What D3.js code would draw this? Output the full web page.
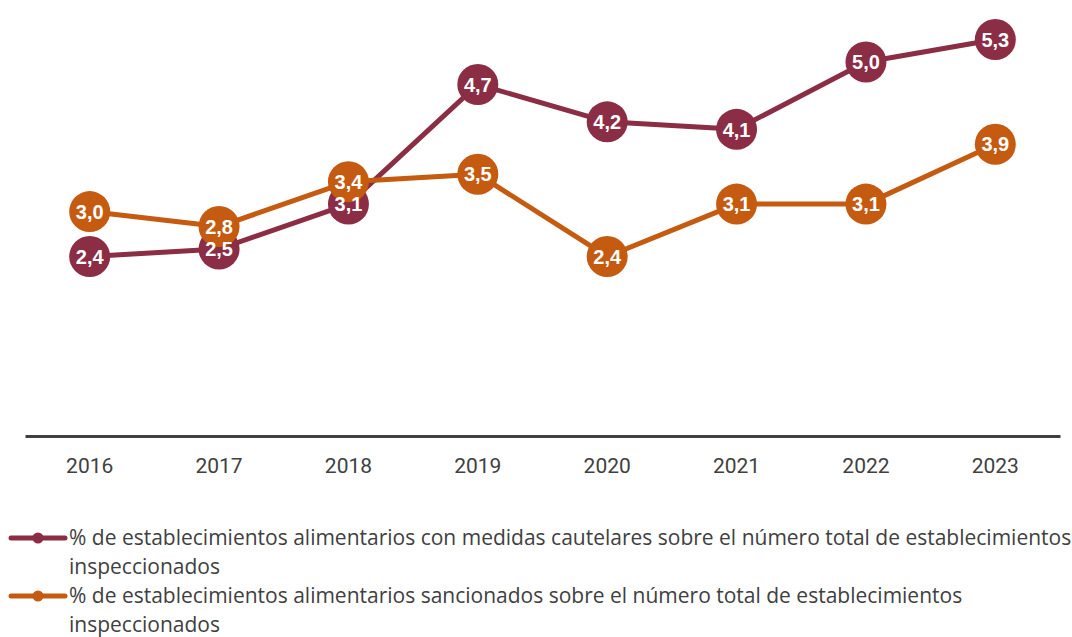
<!DOCTYPE html>
<html>
<head>
<meta charset="utf-8">
<script src="https://cdn.jsdelivr.net/npm/d3@7"></script>
<style>
  body { margin: 0; background: #fff; }
  svg { display: block; }
</style>
</head>
<body>
<div id="chart-container" style="width:1072px;height:637px"></div>
<script>
// data
var years = ["2016", "2017", "2018", "2019", "2020", "2021", "2022", "2023"];
var cautelares = [2.4, 2.5, 3.1, 4.7, 4.2, 4.1, 5.0, 5.3];
var sancionados = [3.0, 2.8, 3.4, 3.5, 2.4, 3.1, 3.1, 3.9];
var seriesNames = [
    ["% de establecimientos alimentarios con medidas cautelares sobre el número total de establecimientos", "inspeccionados"],
    ["% de establecimientos alimentarios sancionados sobre el número total de establecimientos", "inspeccionados"]
];
var seriesColors = ["#8a2d45", "#c55a11"];

var width = 1072,
    height = 637,
    baseline = 436;

var svg = d3.select("#chart-container").append("svg")
    .attr("width", width)
    .attr("height", height);

var xScale = d3.scaleBand()
    .domain(years)
    .range([25, 1060]);

var yScale = d3.scaleLinear()
    .domain([0, 6])
    .range([baseline, baseline - 6 * 74.8]);

var xPos = d => xScale(d) + xScale.bandwidth() / 2;

// axis
var xAxis = d3.axisBottom(xScale).tickSize(0).tickPadding(22);
var gX = svg.append("g")
    .attr("transform", "translate(0," + baseline + ")")
    .call(xAxis);
gX.select(".domain").attr("stroke", "#404040").attr("stroke-width", 3);
gX.selectAll("text")
    .attr("fill", "#404040")
    .style("font-family", "Roboto, 'Liberation Sans', Arial, sans-serif")
    .style("font-size", "21px");

var line = d3.line()
    .x((d, i) => xPos(years[i]))
    .y(d => yScale(d));

var all = [cautelares, sancionados];

// lines + markers, series by series
all.forEach(function (vals, s) {
    svg.append("path")
        .datum(vals)
        .attr("d", line)
        .attr("fill", "none")
        .attr("stroke", seriesColors[s])
        .attr("stroke-width", 5)
        .attr("stroke-linejoin", "round");
    svg.append("g").selectAll("circle")
        .data(vals).enter().append("circle")
        .attr("cx", (d, i) => xPos(years[i]))
        .attr("cy", d => yScale(d))
        .attr("r", 20.5)
        .attr("fill", seriesColors[s]);
});

// labels on top
all.forEach(function (vals, s) {
    svg.append("g").selectAll("text")
        .data(vals).enter().append("text")
        .attr("x", (d, i) => xPos(years[i]))
        .attr("y", d => yScale(d))
        .attr("dy", "0.36em")
        .attr("text-anchor", "middle")
        .attr("fill", "#fff")
        .style("font-family", "'Liberation Sans', Arial, sans-serif")
        .style("font-weight", "bold")
        .style("font-size", "20px")
        .text(d => d.toFixed(1).replace(".", ","));
});

// legend
var legend = svg.append("g");
seriesNames.forEach(function (lines, s) {
    var y0 = 538 + s * 58;
    var g = legend.append("g").attr("transform", "translate(0," + y0 + ")");
    g.append("line")
        .attr("x1", 11).attr("x2", 65)
        .attr("y1", 0).attr("y2", 0)
        .attr("stroke", seriesColors[s])
        .attr("stroke-width", 5)
        .attr("stroke-linecap", "round");
    g.append("circle")
        .attr("cx", 38).attr("cy", 0).attr("r", 5.5)
        .attr("fill", seriesColors[s]);
    g.selectAll("text")
        .data(lines).enter().append("text")
        .attr("x", 69)
        .attr("y", (d, i) => i * 29)
        .attr("dy", "0.35em")
        .attr("fill", "#404040")
        .style("font-family", "'Open Sans', 'Liberation Sans', sans-serif")
        .style("font-size", "21px")
        .text(d => d);
});
</script>
</body>
</html>
